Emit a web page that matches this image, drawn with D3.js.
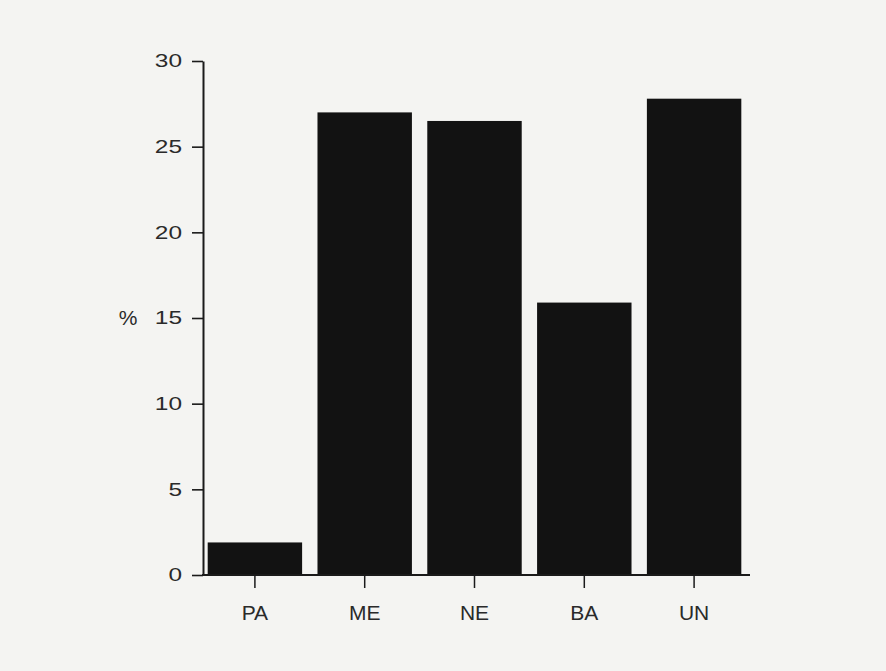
<!DOCTYPE html>
<html><head><meta charset="utf-8">
<script src="https://cdn.jsdelivr.net/npm/d3@7"></script>
<style>body{margin:0;background:#f4f4f2;}svg{display:block;}</style>
</head><body>
<svg id="c" width="886" height="671"></svg>
<script>
const categories = ["PA", "ME", "NE", "BA", "UN"];
const values = [1.9, 27.0, 26.5, 15.9, 27.8];
const yTicks = [0, 5, 10, 15, 20, 25, 30];
const yLabel = "%";

const svg = d3.select("#c");
svg.append("rect").attr("width", 886).attr("height", 671).attr("fill", "#f4f4f2");
const axisX = 203, baseY = 575, topY = 61, rightX = 750;
const x = d3.scaleBand().domain(categories).range([200, 749]).paddingInner(0.14).paddingOuter(0.07);
const y = d3.scaleLinear().domain([0, 30]).range([baseY, topY]);
const font = "'Liberation Sans', Arial, sans-serif";
const ink = "#1a1a1a";

svg.append("g").selectAll("rect").data(values).join("rect")
  .attr("x", (d, i) => x(categories[i]))
  .attr("y", d => y(d))
  .attr("width", x.bandwidth())
  .attr("height", d => baseY - y(d))
  .attr("fill", "#121212");

const yAxis = svg.append("g").attr("transform", `translate(${axisX},0)`)
  .call(d3.axisLeft(y).tickValues(yTicks).tickSize(11).tickPadding(10).tickSizeOuter(0));
yAxis.select(".domain").attr("stroke", ink).attr("stroke-width", 2);
yAxis.selectAll(".tick line").attr("stroke", ink).attr("stroke-width", 1.6);
yAxis.selectAll("text").attr("font-family", font).attr("font-size", 18.5).attr("fill", "#2a2a2a")
  .attr("textLength", d => String(d).length * 13.6).attr("lengthAdjust", "spacingAndGlyphs");

svg.append("line").attr("x1", axisX - 1).attr("x2", rightX).attr("y1", baseY).attr("y2", baseY)
  .attr("stroke", ink).attr("stroke-width", 1.8);

const xAxis = svg.append("g").attr("transform", `translate(0,${baseY})`)
  .call(d3.axisBottom(x).tickSize(13).tickPadding(17).tickSizeOuter(0));
xAxis.select(".domain").remove();
xAxis.selectAll(".tick line").attr("stroke", ink).attr("stroke-width", 1.5);
xAxis.selectAll("text").attr("font-family", font).attr("font-size", 21).attr("fill", "#2a2a2a");

svg.append("text").attr("x", 128).attr("y", y(15)).attr("dy", "0.35em")
  .attr("text-anchor", "middle").attr("font-family", font).attr("font-size", 21)
  .attr("fill", "#2a2a2a").text(yLabel);
</script>
</body></html>
